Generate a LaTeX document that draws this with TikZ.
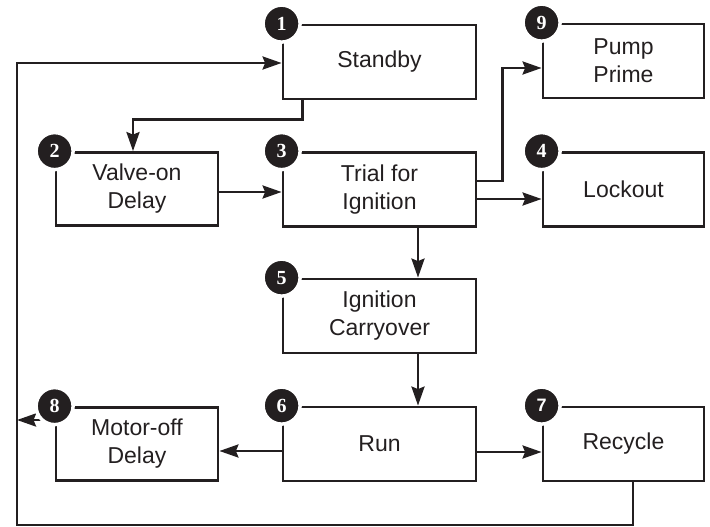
\documentclass[tikz,border=0pt]{standalone}
\usepackage{fontspec}
\setmainfont{Liberation Sans}
\newfontfamily\numserif{Liberation Serif}
\usetikzlibrary{arrows.meta}
\definecolor{ink}{HTML}{231F20}
\begin{document}
\begin{tikzpicture}[x=1pt,y=-1pt,
  box/.style={draw=ink, line width=2.8pt, text=ink, font=\fontsize{23}{28}\selectfont, align=center, inner sep=0pt},
  colA/.style={box, minimum width=162pt, minimum height=73pt},
  colB/.style={box, minimum width=193pt, minimum height=74pt},
  colC/.style={box, minimum width=161pt, minimum height=74pt},
  num/.style={circle, fill=ink, draw=white, line width=3.5pt, minimum size=37pt, inner sep=0pt, text=white, font=\numserif\bfseries\fontsize{20}{20}\selectfont},
  numsans/.style={num, font=\bfseries\fontsize{18}{18}\selectfont},
  arr/.style={draw=ink, line width=2.7pt, -{Stealth[length=19pt,width=13pt,inset=2.5pt]}},
  ln/.style={draw=ink, line width=2.7pt}]
\useasboundingbox (0,0) rectangle (710,527);
% boxes
\node[colB] (sb) at (379.5,62) {Standby};
\node[colC] (pp) at (623.5,61) {Pump\\Prime};
\node[colA] (vo) at (137,189) {Valve-on\\Delay};
\node[colB] (tr) at (379.5,189.5) {Trial for\\Ignition};
\node[colC] (lo) at (623.5,189.5) {Lockout};
\node[colB] (ic) at (379.5,316) {Ignition\\Carryover};
\node[colA] (mo) at (137,444) {Motor-off\\Delay};
\node[colB] (run) at (379.5,444) {Run};
\node[colC] (rc) at (623.5,444) {Recycle};
% helper coordinates
\coordinate (bl) at (17,525);
\coordinate (ml) at (17,420);
% connectors
\draw[arr] ([xshift=21pt]sb.south west) -- ++(0,19) -| ([xshift=-4pt]vo.north);
\draw[arr] ([yshift=-3pt]vo.east) -- ([yshift=-3pt]vo.east -| tr.west);
\draw[arr] ([yshift=8.5pt]tr.east) -- ++(25,0) |- ([yshift=-7pt]pp.west);
\draw[arr] ([yshift=-9.5pt]tr.east) -- ([yshift=-9.5pt]tr.east -| lo.west);
\draw[arr] ([xshift=38.5pt]tr.south) -- ([xshift=38.5pt]ic.north);
\draw[arr] ([xshift=38.5pt]ic.south) -- ([xshift=38.5pt]run.north);
\draw[arr] ([yshift=-7pt]run.west) -- ([yshift=-7pt]run.west -| mo.east);
\draw[arr] ([yshift=-8pt]run.east) -- ([yshift=-8pt]run.east -| rc.west);
\draw[arr] (mo.west |- ml) -- (ml);
\draw[arr] ([xshift=9.5pt]rc.south) |- (bl) |- ([yshift=-1pt]sb.west);
% numbers
\node[num] (n1) at (sb.north west) {1};
\node[num] (n9) at (pp.north west) {9};
\node[num] (n2) at (vo.north west) {2};
\node[num] (n3) at (tr.north west) {3};
\node[num] (n4) at (lo.north west) {4};
\node[num] (n5) at (ic.north west) {5};
\node[num] (n8) at (mo.north west) {8};
\node[num] (n6) at (run.north west) {6};
\node[numsans] (n7) at (rc.north west) {7};
\end{tikzpicture}
\end{document}
